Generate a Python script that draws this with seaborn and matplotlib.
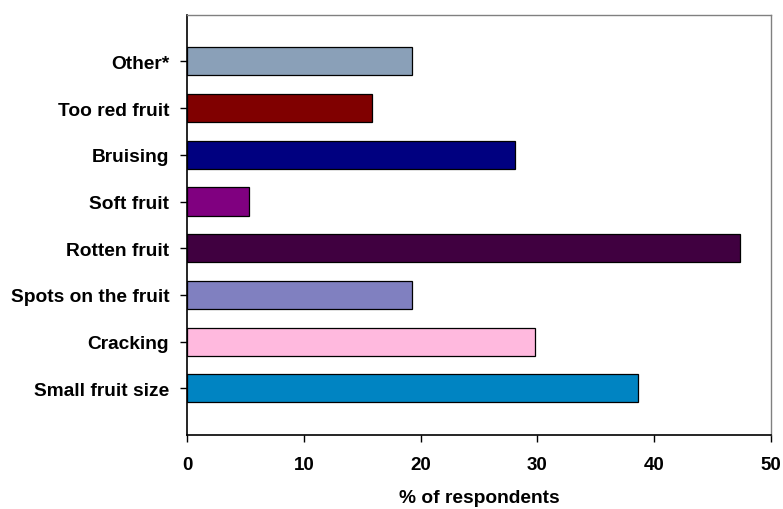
import matplotlib
matplotlib.use("Agg")
import matplotlib.pyplot as plt
import seaborn as sns
import pandas as pd

# Reasons reported, listed top to bottom
categories = [
    "Other*",
    "Too red fruit",
    "Bruising",
    "Soft fruit",
    "Rotten fruit",
    "Spots on the fruit",
    "Cracking",
    "Small fruit size",
]
percent = [19.3, 15.8, 28.1, 5.3, 47.4, 19.3, 29.8, 38.6]
bar_colors = [
    "#8AA0B8",
    "#800000",
    "#000080",
    "#800080",
    "#400040",
    "#8080C0",
    "#FFB9DE",
    "#0084C2",
]
x_ticks = [0, 10, 20, 30, 40, 50]

sns.set_theme(style="white")
plt.rcParams["font.family"] = ["Liberation Sans", "DejaVu Sans"]
plt.rcParams["text.color"] = "black"
plt.rcParams["axes.labelcolor"] = "black"
plt.rcParams["xtick.color"] = "black"
plt.rcParams["ytick.color"] = "black"

df = pd.DataFrame({"reason": categories, "pct": percent})

fig = plt.figure(figsize=(7.83, 5.10), dpi=100)
ax = fig.add_axes([0.2392, 0.1451, 0.9843 - 0.2392, 0.9692 - 0.1451])

sns.barplot(
    data=df, x="pct", y="reason", hue="reason", order=categories,
    hue_order=categories, palette=bar_colors, orient="h", width=0.6,
    edgecolor="black", linewidth=0.9, saturation=1, legend=False, ax=ax,
)

ax.set_xlim(0, 50)
ax.set_ylim(len(categories), -1)
ax.set_xticks(x_ticks)
ax.set_xticklabels([str(t) for t in x_ticks], fontsize=13.5, fontweight="bold")
ax.set_yticks(range(len(categories)))
ax.set_yticklabels(categories, fontsize=13.8, fontweight="bold")
ax.set_ylabel("")
ax.set_xlabel("% of respondents", fontsize=13.8, fontweight="bold", labelpad=12)

ax.tick_params(axis="x", direction="out", length=5, width=1, color="black",
               labelcolor="black", pad=10, bottom=True)
ax.tick_params(axis="y", direction="out", length=5, width=1, color="black",
               labelcolor="black", pad=8, left=True)

for side in ("left", "bottom"):
    ax.spines[side].set_color("black")
    ax.spines[side].set_linewidth(1.2)
for side in ("top", "right"):
    ax.spines[side].set_color("#808080")
    ax.spines[side].set_linewidth(1.0)

fig.savefig("out.png", dpi=100, facecolor="white")
